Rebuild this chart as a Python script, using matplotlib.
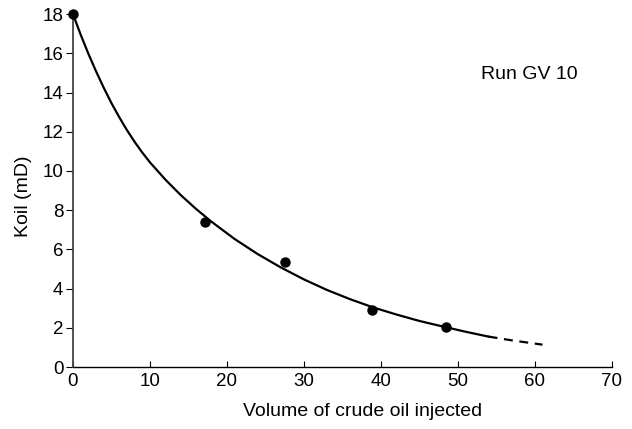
import matplotlib
matplotlib.use("Agg")
import matplotlib.pyplot as plt

plt.rcParams['font.family'] = ['Liberation Sans', 'DejaVu Sans']

# measured points
vol_pts = [0.0, 17.2, 27.5, 38.9, 48.4]
koil_pts = [18.0, 7.4, 5.37, 2.91, 2.06]

# fitted curve (solid part)
vol_fit = [0, 1, 2, 3, 4, 5, 6, 7, 8, 9, 10, 12, 14, 16, 18, 21, 24, 27, 30,
           33, 36, 39, 42, 45, 48, 51, 54]
koil_fit = [18.0, 16.95, 15.98, 15.08, 14.24, 13.46, 12.75, 12.09, 11.49, 10.94,
            10.44, 9.56, 8.77, 8.06, 7.41, 6.53, 5.76, 5.08, 4.47, 3.93, 3.46,
            3.04, 2.68, 2.35, 2.07, 1.80, 1.55]

# extrapolated (dashed part)
vol_ext = [54, 57, 61]
koil_ext = [1.55, 1.36, 1.14]

fig = plt.figure(figsize=(6.32, 4.29), dpi=100)
ax = fig.add_axes([0.1155, 0.1445, 0.8525, 0.8225])

ax.plot(vol_fit, koil_fit, '-', color='black', lw=1.6, clip_on=False)
ax.plot(vol_ext, koil_ext, '--', color='black', lw=1.6, dashes=(4, 3))
ax.plot(vol_pts, koil_pts, 'o', color='black', ms=6.5, clip_on=False, zorder=5)

ax.set_xlim(0, 70)
ax.set_ylim(0, 18)
ax.set_xticks(range(0, 71, 10))
ax.set_yticks(range(0, 19, 2))

for s in ('top', 'right'):
    ax.spines[s].set_visible(False)
ax.spines['left'].set_color('#444444')
ax.spines['left'].set_linewidth(1.3)
ax.spines['bottom'].set_linewidth(1.0)

ax.tick_params(axis='x', direction='in', length=4, labelsize=13.5, pad=4)
ax.tick_params(axis='y', direction='out', length=5, labelsize=13.5, pad=2)

ax.set_xlabel('Volume of crude oil injected', fontsize=14)
ax.xaxis.set_label_coords(0.538, -0.126)
ax.xaxis.label.set_va('center')
ax.set_ylabel('Koil (mD)', fontsize=14)
ax.yaxis.set_label_coords(-0.091, 0.484)
ax.yaxis.label.set_va('center')

ax.text(53.0, 14.9, 'Run GV 10', fontsize=14, ha='left', va='center')

fig.savefig('out.png', dpi=100)
plt.close(fig)
